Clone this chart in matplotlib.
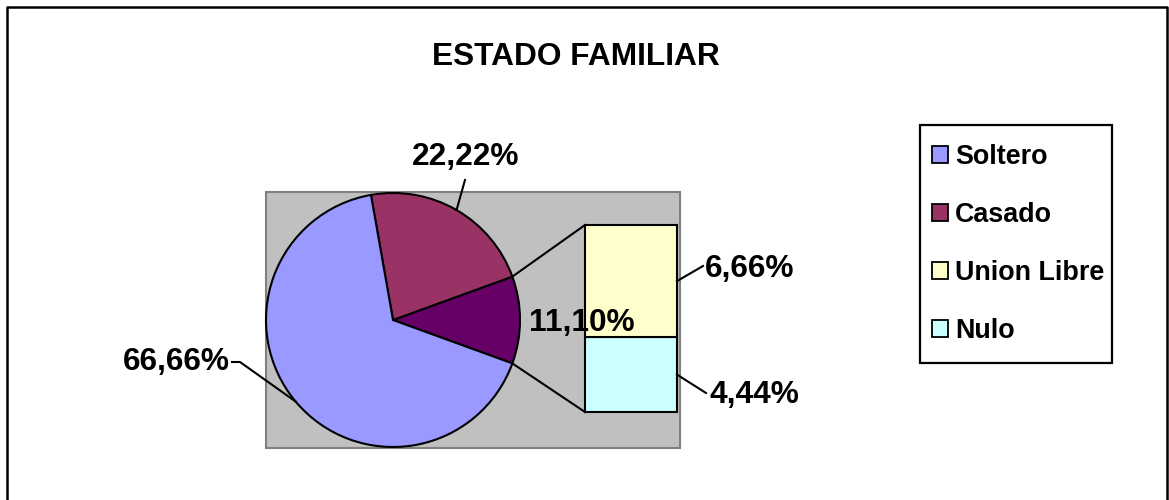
import numpy as np
import matplotlib
matplotlib.use("Agg")
import matplotlib.pyplot as plt
from matplotlib.patches import Rectangle

categories = ["Soltero", "Casado", "Union Libre", "Nulo"]
values = [66.66, 22.22, 6.66, 4.44]
title = "ESTADO FAMILIAR"

colors = ["#9999FF", "#993366", "#FFFFCC", "#CCFFFF"]
other_color = "#660066"

plt.rcParams["font.family"] = ["Liberation Sans", "DejaVu Sans"]
plt.rcParams["font.weight"] = "bold"

def pct(v):
    return "{:.2f}%".format(v).replace(".", ",")

fig = plt.figure(figsize=(11.69, 5.0), dpi=100)
ax = fig.add_axes([0, 0, 1, 1])
lw = 1.5

# outer chart frame (bottom edge is cut off in the reference)
ax.plot([7, 7, 1167, 1167], [0, 493, 493, 0], color="black", lw=1.8)

# gray plot area
ax.add_patch(Rectangle((266, 52), 414, 256, fc="#C0C0C0", ec="#808080", lw=1.5, zorder=0))

cx, cy, r = 393, 180, 127
other = values[2] + values[3]
start = -other / 100 * 360 / 2
wedges, _ = ax.pie([other, values[1], values[0]],
                   colors=[other_color, colors[1], colors[0]],
                   startangle=start, center=(cx, cy), radius=r,
                   wedgeprops=dict(edgecolor="black", linewidth=lw))

# secondary bar
bx, bw, bbot, bh = 631, 92, 88, 187
scale = bh / other
ax.bar(bx, values[3] * scale, bottom=bbot, width=bw, color=colors[3], ec="black", lw=lw)
ax.bar(bx, values[2] * scale, bottom=bbot + values[3] * scale, width=bw,
       color=colors[2], ec="black", lw=lw)

# connector lines pie -> bar
a_top = np.deg2rad(start + other * 3.6)
a_bot = np.deg2rad(start)
ax.plot([cx + r * np.cos(a_top), bx - bw / 2], [cy + r * np.sin(a_top), bbot + bh], color="black", lw=lw)
ax.plot([cx + r * np.cos(a_bot), bx - bw / 2], [cy + r * np.sin(a_bot), bbot], color="black", lw=lw)

fs = 22.8
# Casado label
a = np.deg2rad(start + other * 3.6 + values[1] * 1.8)
ax.plot([cx + r * np.cos(a), 465], [cy + r * np.sin(a), 320], color="black", lw=lw)
ax.text(466, 343, pct(values[1]), fontsize=fs, ha="center", va="center")

# Soltero label
a = np.deg2rad(start + other * 3.6 + values[1] * 3.6 + values[0] * 1.8)
ax.plot([cx + r * np.cos(a), 240, 232], [cy + r * np.sin(a), 138, 138], color="black", lw=lw)
ax.text(230, 138, pct(values[0]), fontsize=fs, ha="right", va="center")

# other slice label
ax.text(582, 177, pct(other), fontsize=fs, ha="center", va="center")

# bar labels
y_u = bbot + values[3] * scale + values[2] * scale / 2
ax.plot([bx + bw / 2, 703], [y_u, 234], color="black", lw=lw)
ax.text(705, 231, pct(values[2]), fontsize=fs, ha="left", va="center")
y_n = bbot + values[3] * scale / 2
ax.plot([bx + bw / 2, 706], [y_n, 107], color="black", lw=lw)
ax.text(710, 105, pct(values[3]), fontsize=fs, ha="left", va="center")

ax.text(576, 443, title, fontsize=fs, ha="center", va="center")

# legend (frame drawn separately so the padding matches)
ax.add_patch(Rectangle((920, 137), 192, 238, fc="white", ec="black", lw=1.6, zorder=4))
handles = [Rectangle((0, 0), 1, 1, fc=c, ec="black", lw=1.3) for c in colors]
leg = ax.legend(handles, categories, loc="upper left", bbox_to_anchor=(932 / 1169, 356 / 500),
                fontsize=19.4, frameon=False,
                handlelength=0.6, handleheight=0.6, handletextpad=0.25,
                labelspacing=1.185, borderpad=0, borderaxespad=0)
leg.set_zorder(5)

ax.set_aspect("equal")
ax.set_xlim(0, 1169)
ax.set_ylim(0, 500)
ax.axis("off")

fig.savefig("out.png", dpi=100)
